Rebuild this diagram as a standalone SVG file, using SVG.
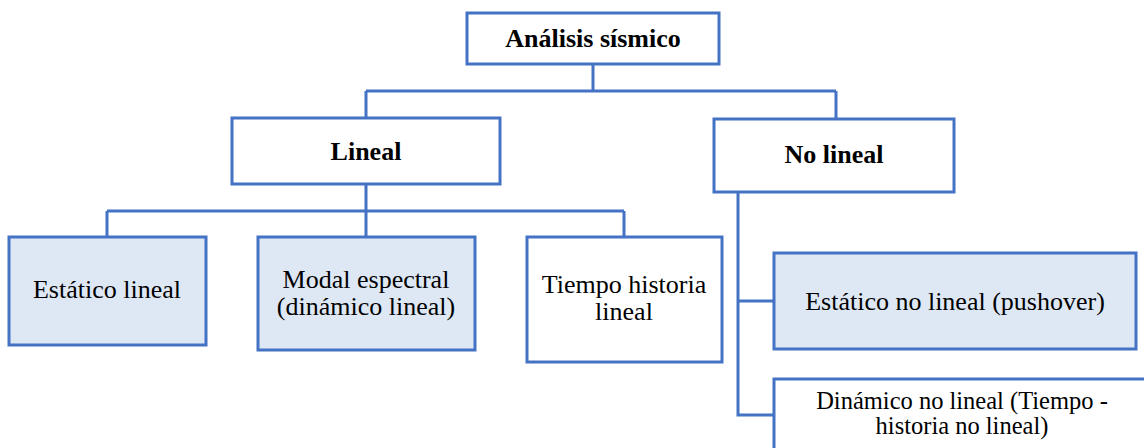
<svg xmlns="http://www.w3.org/2000/svg" width="1144" height="448" viewBox="0 0 1144 448">
<style>
.box{fill:#ffffff;stroke:#4472c4;stroke-width:3}
.blue{fill:#dee8f5}
.t{font-family:"Liberation Serif","Times New Roman",serif;font-size:26px;fill:#000;text-anchor:middle}
.b{font-weight:bold}
.s{font-size:24.5px}
.c{fill:none;stroke:#4472c4;stroke-width:3}
</style>
<rect width="1144" height="448" fill="#ffffff"/>
<g id="connectors">
<path class="c" d="M593 64V91M366 91H836M366 91V118M836 91V119"/>
<path class="c" d="M366 184V237M107 211H624M107 211V237M624 211V237"/>
<path class="c" d="M738 192V415H774M738 301H774"/>
</g>
<g id="n-analisis">
<rect class="box" x="467" y="13" width="252" height="51"/>
<text class="t b" x="593" y="47">Análisis sísmico</text>
</g>
<g id="n-lineal">
<rect class="box" x="232" y="118" width="268" height="66"/>
<text class="t b" x="366" y="160">Lineal</text>
</g>
<g id="n-nolineal">
<rect class="box" x="714" y="119" width="240" height="73"/>
<text class="t b" x="834" y="163">No lineal</text>
</g>
<g id="n-estatico">
<rect class="box blue" x="9" y="237" width="197" height="108"/>
<text class="t" x="107" y="298">Estático lineal</text>
</g>
<g id="n-modal">
<rect class="box blue" x="258" y="237" width="217" height="113"/>
<text class="t" x="366" y="288">Modal espectral</text>
<text class="t" x="366" y="315">(dinámico lineal)</text>
</g>
<g id="n-tiempo">
<rect class="box" x="527" y="237" width="195" height="125"/>
<text class="t" x="624" y="293">Tiempo historia</text>
<text class="t" x="624" y="320">lineal</text>
</g>
<g id="n-pushover">
<rect class="box blue" x="774" y="253" width="362" height="96"/>
<text class="t" x="955" y="310">Estático no lineal (pushover)</text>
</g>
<g id="n-dinamico">
<rect class="box" x="774" y="379" width="380" height="80"/>
<text class="t s" x="962" y="409">Dinámico no lineal (Tiempo -</text>
<text class="t s" x="962" y="434">historia no lineal)</text>
</g>
</svg>
